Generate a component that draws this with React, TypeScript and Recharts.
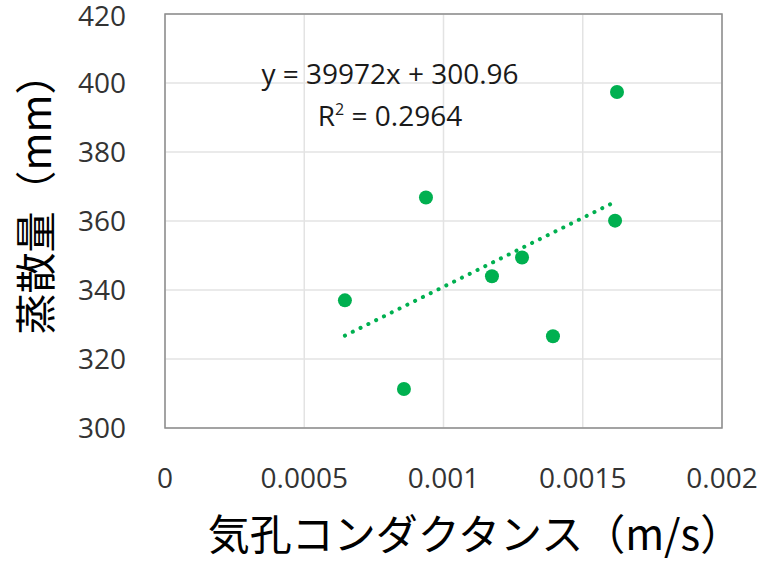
import {
  CartesianGrid,
  ReferenceArea,
  Scatter,
  ScatterChart,
  XAxis,
  YAxis
} from 'recharts'

// stomatal conductance (m/s) vs transpiration (mm)
const conductance = [0.000646, 0.000858, 0.000937, 0.001174, 0.001282, 0.001393, 0.001616, 0.001623]
const transpiration = [337.0, 311.3, 366.8, 344.0, 349.4, 326.6, 360.1, 397.4]

const xTicks = [0, 0.0005, 0.001, 0.0015, 0.002]
const yTicks = [300, 320, 340, 360, 380, 400, 420]

// trendline from the equation shown on the chart
const slope = 39972
const intercept = 300.96
const trendX = [0.000646, 0.001623]

const points = conductance.map((x, i) => ({ x, y: transpiration[i] }))
const trend = trendX.map((x) => ({ x, y: slope * x + intercept }))

const GREEN = '#00b050'
const NUM_FONT = '"Open Sans", "Noto Sans", sans-serif'
const JP_FONT = '"Noto Sans CJK JP", sans-serif'

export default function App() {
  return (
    <div style={{ position: 'absolute', left: 0, top: 0, width: 760, height: 562, background: '#fff' }}>
      <ScatterChart width={760} height={562} margin={{ top: 14, right: 38, left: 0, bottom: 0 }}>
        <CartesianGrid stroke="#e3e3e3" strokeWidth={1.5} />
        <XAxis
          type="number"
          dataKey="x"
          domain={[0, 0.002]}
          ticks={xTicks}
          tickFormatter={(v) => String(v)}
          height={134}
          axisLine={false}
          tickLine={false}
          tickMargin={34}
          tick={{ fill: '#333', fontSize: 28, fontFamily: NUM_FONT }}
          label={{
            content: ({ viewBox }: any) => (
              <text
                x={viewBox.x + 310}
                y={viewBox.y + 122}
                textAnchor="middle"
                fontSize={42}
                fontFamily={JP_FONT}
                fill="#000"
              >
                気孔コンダクタンス（m/s）
              </text>
            )
          }}
        />
        <YAxis
          type="number"
          dataKey="y"
          domain={[300, 420]}
          ticks={yTicks}
          width={165}
          axisLine={false}
          tickLine={false}
          tickMargin={33}
          tick={{ fill: '#333', fontSize: 28, fontFamily: NUM_FONT }}
          label={{
            content: ({ viewBox }: any) => {
              const cx = viewBox.x + 33
              const cy = viewBox.y + 180
              return (
                <text
                  x={cx}
                  y={cy}
                  transform={`rotate(-90 ${cx} ${cy})`}
                  textAnchor="middle"
                  dominantBaseline="central"
                  fontSize={41}
                  fontFamily={JP_FONT}
                  fill="#000"
                >
                  蒸散量（mm）
                </text>
              )
            }
          }}
        />
        <ReferenceArea
          x1={0}
          x2={0.002}
          y1={300}
          y2={420}
          fill="none"
          stroke="#8c8c8c"
          strokeWidth={1.5}
          ifOverflow="visible"
        />
        <Scatter
          data={trend}
          line={{ stroke: GREEN, strokeWidth: 4, strokeDasharray: '0.1 8.6', strokeLinecap: 'round' }}
          shape={() => <g />}
          isAnimationActive={false}
        />
        <Scatter
          data={points}
          fill={GREEN}
          shape={(p: any) => <circle cx={p.cx} cy={p.cy} r={7} fill={GREEN} />}
          isAnimationActive={false}
        />
      </ScatterChart>
      <div
        style={{
          position: 'absolute',
          left: 240,
          top: 52,
          width: 300,
          textAlign: 'center',
          fontFamily: NUM_FONT,
          fontSize: 28,
          lineHeight: '42px',
          color: '#1a1a1a'
        }}
      >
        <div>y = 39972x + 300.96</div>
        <div>
          R<sup style={{ fontSize: 16, verticalAlign: 'top', lineHeight: '30px' }}>2</sup> = 0.2964
        </div>
      </div>
    </div>
  )
}
